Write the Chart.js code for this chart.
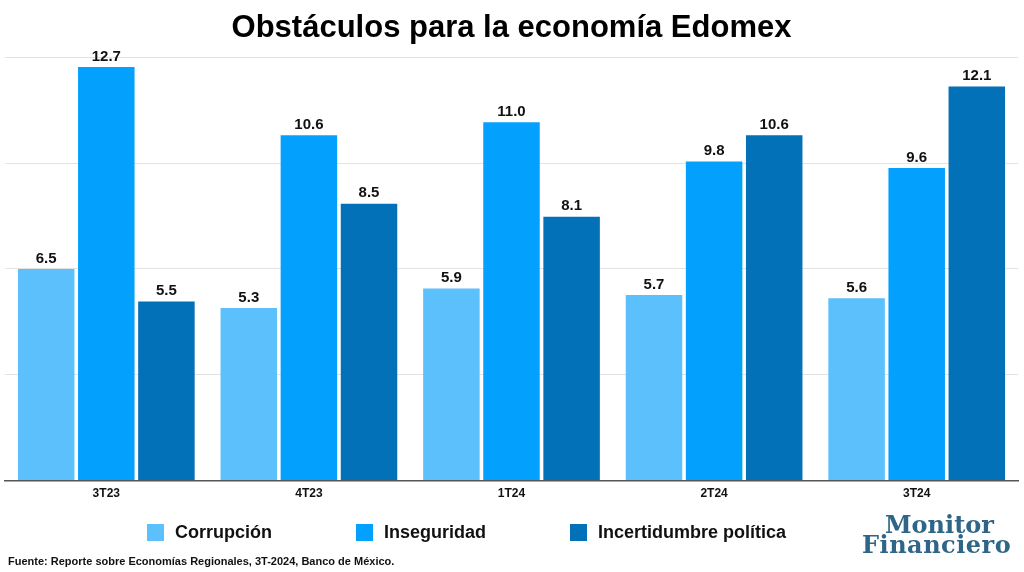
<!DOCTYPE html>
<html>
<head>
<meta charset="utf-8">
<script src="https://cdn.jsdelivr.net/npm/chart.js@4.4.1/dist/chart.umd.min.js"></script>
<style>
  body { margin: 0; background: #fff; font-family: "Liberation Sans", Arial, sans-serif; }
  #wrap { position: relative; width: 1024px; height: 572px; }
  #legend { position: absolute; top: 522px; left: 147px; display: flex; font-size: 18px; font-weight: bold; color: #111; }
  #legend .item { display: flex; align-items: center; margin-right: 84px; }
  #legend .box { width: 17px; height: 17px; margin-right: 11px; }
  #source { position: absolute; left: 8px; top: 555px; font-size: 11px; font-weight: bold; color: #111; }
  .logo { position: absolute; font-family: "DejaVu Serif", "Liberation Serif", serif; font-weight: bold; color: #2f6688; white-space: nowrap; }
  #logo1 { left: 885px; top: 510px; font-size: 24px; }
  #logo2 { left: 862px; top: 530px; font-size: 24px; letter-spacing: 0.5px; }
</style>
</head>
<body>
<div id="wrap">
  <canvas id="chart" width="1024" height="572"></canvas>
  <div id="legend"></div>
  <div id="source">Fuente: Reporte sobre Economías Regionales, 3T-2024, Banco de México.</div>
  <div class="logo" id="logo1">Monitor</div>
  <div class="logo" id="logo2">Financiero</div>
</div>
<script>
const labels = ['3T23', '4T23', '1T24', '2T24', '3T24'];
const corrupcion = [6.5, 5.3, 5.9, 5.7, 5.6];
const inseguridad = [12.7, 10.6, 11.0, 9.8, 9.6];
const incertidumbre = [5.5, 8.5, 8.1, 10.6, 12.1];

// etiquetas de valor arriba de cada barra
const valueLabels = {
  id: 'valueLabels',
  afterDatasetsDraw(chart) {
    const ctx = chart.ctx;
    ctx.save();
    ctx.font = 'bold 15px "Liberation Sans", Arial, sans-serif';
    ctx.fillStyle = '#111';
    ctx.textAlign = 'center';
    ctx.textBaseline = 'bottom';
    chart.data.datasets.forEach((ds, i) => {
      chart.getDatasetMeta(i).data.forEach((bar, j) => {
        ctx.fillText(ds.data[j].toFixed(1), bar.x, bar.y - 3);
      });
    });
    ctx.restore();
  }
};

const data = {
  labels: labels,
  datasets: [{
    label: 'Corrupción',
    backgroundColor: '#5bc0fb',
    data: corrupcion
  }, {
    label: 'Inseguridad',
    backgroundColor: '#03a0fe',
    data: inseguridad
  }, {
    label: 'Incertidumbre política',
    backgroundColor: '#0271b8',
    data: incertidumbre
  }]
};

const config = {
  type: 'bar',
  data: data,
  options: {
    responsive: false,
    animation: false,
    layout: { padding: { left: 5, right: 6, bottom: 65 } },
    datasets: { bar: { categoryPercentage: 0.89, barPercentage: 0.94 } },
    plugins: {
      legend: { display: false },
      tooltip: { enabled: false },
      title: {
        display: true,
        text: 'Obstáculos para la economía Edomex',
        color: '#000',
        font: { family: '"Liberation Sans", Arial, sans-serif', size: 31, weight: 'bold' },
        padding: { top: 10, bottom: 10 }
      }
    },
    scales: {
      x: {
        grid: { display: false, drawTicks: false },
        border: { display: true, color: '#555', width: 1.5 },
        ticks: { color: '#111', padding: 6, font: { family: '"Liberation Sans", Arial, sans-serif', size: 12, weight: 'bold' } }
      },
      y: {
        min: 0,
        max: 13,
        ticks: { display: false, stepSize: 3.25 },
        border: { display: false },
        grid: { color: '#e2e2e2', drawTicks: false }
      }
    }
  },
  plugins: [valueLabels]
};

const chart = new Chart(document.getElementById('chart'), config);

const legend = document.getElementById('legend');
data.datasets.forEach(ds => {
  legend.insertAdjacentHTML('beforeend',
    `<div class="item"><div class="box" style="background:${ds.backgroundColor}"></div>${ds.label}</div>`);
});
</script>
</body>
</html>
